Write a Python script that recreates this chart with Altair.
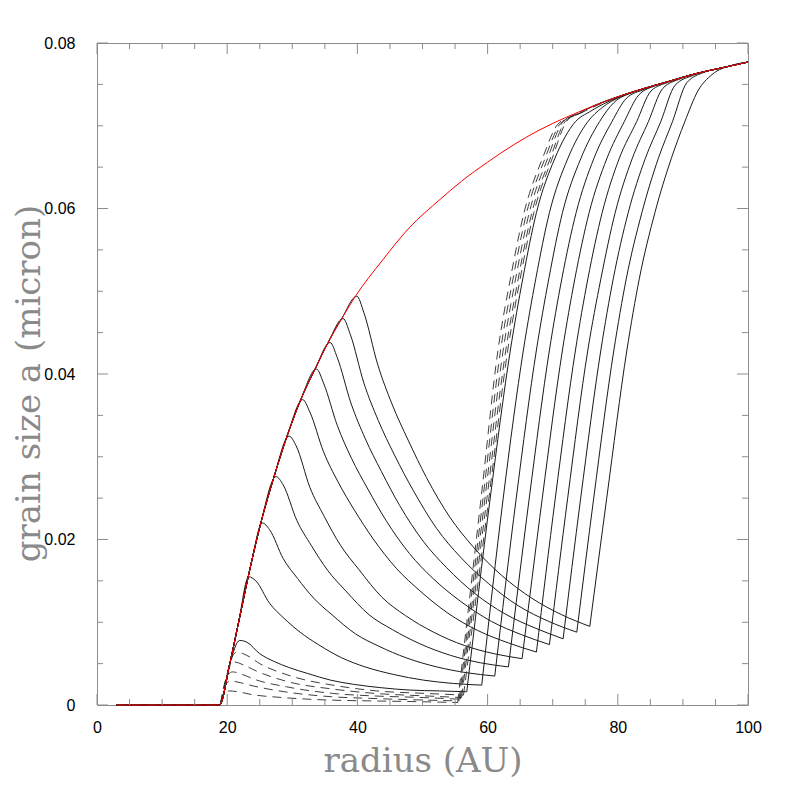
import altair as alt
import pandas as pd

# ---------------- data ----------------
# red envelope (maximum grain size)
red_x = [3, 18.8, 20.4, 21.7, 23.65, 25.1, 27.2, 29.2, 31.3, 33.5, 35.5, 37.6, 39.7, 43.9, 48,
         52.7, 56, 60, 64, 68, 72, 76, 80, 84, 88, 92, 96, 100]
red_y = [0, 0, .0050, .0098, .0170, .0218, .0276, .0325, .0369, .0406, .0438, .0467, .0494, .0538,
         .0577, .0611, .0633, .0656, .0677, .0695, .0710, .0723, .0735, .0745, .0754, .0763, .0770, .0777]

# solid curves: decay from the peak to the minimum, then the steep rise
S1_fall_x = [21.9, 23.0, 25.0, 27.1, 29.6, 32.4, 35.9, 39.4, 43.5, 48.1, 52.6, 56.8]
S1_fall_y = [.0078, .0076, .0062, .0053, .0045, .0038, .0030, .0025, .0021, .0018, .0017, .0016]
S1_rise_x = [56.8, 60.4, 63.5, 65.4, 67.5, 70.3, 73.5, 75.7, 78.5]
S1_rise_y = [.0016, .025, .0429, .0515, .0595, .066, .0705, .0717, .0729]

S2_fall_x = [23.3, 24.4, 26.5, 28.7, 31.2, 34.0, 37.6, 41.2, 45.5, 50.2, 54.8, 59.1]
S2_fall_y = [.0155, .0150, .0123, .0105, .0088, .0073, .0057, .0046, .0037, .0030, .0026, .0024]
S2_rise_x = [59.1, 62.4, 65.5, 67.4, 69.5, 72.3, 75.4, 77.6, 80.4]
S2_rise_y = [.0024, .025, .0429, .0515, .0595, .066, .0705, .0722, .0735]

S3_fall_x = [25.4, 26.5, 28.6, 30.8, 33.3, 36.1, 39.7, 43.3, 47.5, 52.2, 56.8, 61.1]
S3_fall_y = [.0220, .0212, .0177, .0153, .0129, .0109, .0086, .0071, .0057, .0046, .0039, .0035]
S3_rise_x = [61.1, 64.4, 67.5, 69.4, 71.5, 74.3, 77.2, 79.4, 82.2]
S3_rise_y = [.0035, .025, .0429, .0515, .0595, .066, .0705, .0728, .0740]

S4_fall_x = [27.5, 28.6, 30.7, 32.9, 35.4, 38.2, 41.8, 45.4, 49.6, 54.3, 58.9, 63.2]
S4_fall_y = [.0276, .0266, .0223, .0193, .0163, .0138, .0109, .0091, .0074, .0060, .0051, .0046]
S4_rise_x = [63.2, 66.4, 69.5, 71.4, 73.6, 76.3, 79.1, 81.3, 84.1]
S4_rise_y = [.0046, .025, .0429, .0515, .0595, .066, .0705, .0733, .0744]

S5_fall_x = [29.5, 30.6, 32.7, 34.9, 37.4, 40.2, 43.8, 47.4, 51.7, 56.4, 61.0, 65.3]
S5_fall_y = [.0325, .0313, .0263, .0228, .0193, .0164, .0130, .0108, .0088, .0072, .0062, .0056]
S5_rise_x = [65.3, 68.4, 71.5, 73.4, 75.6, 78.3, 81.0, 83.2, 86.0]
S5_rise_y = [.0056, .025, .0429, .0515, .0595, .066, .0705, .0737, .0749]

S6_fall_x = [31.6, 32.7, 34.8, 37.0, 39.5, 42.4, 46.0, 49.6, 53.9, 58.5, 63.2, 67.5]
S6_fall_y = [.0369, .0354, .0306, .0270, .0236, .0201, .0165, .0138, .0111, .0090, .0075, .0064]
S6_rise_x = [67.5, 70.4, 73.5, 75.4, 77.6, 80.2, 82.9, 85.1, 87.9]
S6_rise_y = [.0064, .025, .0429, .0515, .0595, .066, .0705, .0742, .0753]

S7_fall_x = [33.7, 34.8, 36.9, 39.1, 41.6, 44.4, 48.0, 51.6, 55.9, 60.6, 65.2, 69.5]
S7_fall_y = [.0406, .0389, .0338, .0298, .0261, .0223, .0183, .0153, .0125, .0101, .0085, .0073]
S7_rise_x = [69.5, 72.3, 75.4, 77.4, 79.6, 82.2, 84.7, 86.9, 89.7]
S7_rise_y = [.0073, .025, .0429, .0515, .0595, .066, .0705, .0745, .0757]

S8_fall_x = [35.8, 36.9, 39.0, 41.2, 43.7, 46.5, 50.1, 53.7, 58.0, 62.7, 67.3, 71.6]
S8_fall_y = [.0438, .0420, .0365, .0322, .0282, .0241, .0198, .0166, .0135, .0110, .0093, .0080]
S8_rise_x = [71.6, 74.3, 77.4, 79.3, 81.6, 84.2, 86.6, 88.8, 91.6]
S8_rise_y = [.0080, .025, .0429, .0515, .0595, .066, .0705, .0749, .0761]

S9_fall_x = [37.8, 38.9, 41.0, 43.2, 45.7, 48.6, 52.2, 55.8, 60.1, 64.7, 69.4, 73.7]
S9_fall_y = [.0467, .0448, .0389, .0344, .0302, .0259, .0213, .0179, .0147, .0120, .0101, .0088]
S9_rise_x = [73.7, 76.3, 79.4, 81.3, 83.7, 86.2, 88.4, 90.6, 93.4]
S9_rise_y = [.0088, .025, .0429, .0515, .0595, .066, .0705, .0752, .0765]

S10_fall_x = [39.9, 41.0, 43.1, 45.3, 47.8, 50.6, 54.2, 57.8, 62.1, 66.8, 71.4, 75.7]
S10_fall_y = [.0494, .0474, .0412, .0364, .0320, .0275, .0227, .0191, .0157, .0129, .0109, .0095]
S10_rise_x = [75.7, 78.3, 81.4, 83.3, 85.7, 88.2, 90.3, 92.3, 94.5, 97.5]
S10_rise_y = [.0095, .025, .0429, .0515, .0595, .066, .0705, .0742, .0762, .0773]

# dashed curves (early times)
D1_fall_x = [3, 18.8, 19.4, 20.2, 21.7, 23.5, 28.5, 35.6, 41.8, 49.5, 55.4]
D1_fall_y = [0, 0, .0013, .0017, .0016, .0013, .0009, .0006, .0005, .0004, .0003]
D1_rise_x = [55.4, 59.0, 61.6, 63.5, 65.6, 68.4, 70.8, 73.0]
D1_rise_y = [.0003, .025, .0429, .0515, .0595, .066, .0702, .0712]

D2_fall_x = [3, 18.8, 19.5, 20.0, 20.5, 22.0, 24.0, 28.8, 36.0, 42.0, 50.0, 55.6]
D2_fall_y = [0, 0, .0022, .0027, .0029, .0027, .0023, .0016, .0010, .0008, .0006, .0005]
D2_rise_x = [55.6, 59.3, 62.0, 63.9, 66.0, 68.8, 71.2, 73.4]
D2_rise_y = [.0005, .025, .0429, .0515, .0595, .066, .0703, .0713]

D3_fall_x = [3, 18.8, 19.7, 20.2, 20.8, 22.3, 24.2, 29.1, 36.2, 42.4, 50.1, 55.8]
D3_fall_y = [0, 0, .0029, .0037, .0040, .0037, .0031, .0022, .0014, .0011, .0009, .0007]
D3_rise_x = [55.8, 59.6, 62.4, 64.3, 66.4, 69.2, 71.6, 73.8]
D3_rise_y = [.0007, .025, .0429, .0515, .0595, .066, .0705, .0714]

D4_fall_x = [3, 18.8, 20.0, 20.5, 21.1, 22.6, 24.5, 29.4, 36.5, 42.7, 50.4, 56.0]
D4_fall_y = [0, 0, .0038, .0048, .0052, .0048, .0041, .0028, .0019, .0014, .0011, .0009]
D4_rise_x = [56.0, 59.9, 62.8, 64.7, 66.8, 69.6, 72.0, 74.2]
D4_rise_y = [.0009, .025, .0429, .0515, .0595, .066, .0706, .0715]

D5_fall_x = [3, 18.8, 20.4, 20.9, 21.5, 23.0, 25.0, 29.8, 37.0, 43.0, 50.5, 56.3]
D5_fall_y = [0, 0, .0050, .0060, .0064, .0060, .0050, .0035, .0023, .0017, .0014, .0012]
D5_rise_x = [56.3, 60.2, 63.1, 65.0, 67.1, 69.9, 72.3, 74.5]
D5_rise_y = [.0012, .025, .0429, .0515, .0595, .066, .0707, .0716]

# axis ticks
x_major = [0, 20, 40, 60, 80, 100]
x_minor = [5, 10, 15, 25, 30, 35, 45, 50, 55, 65, 70, 75, 85, 90, 95]
y_major = [0, 0.02, 0.04, 0.06, 0.08]
y_minor = [0.005, 0.01, 0.015, 0.025, 0.03, 0.035, 0.045, 0.05, 0.055, 0.065, 0.07, 0.075]

# ---------------- build tables ----------------
solid = [
    (S1_fall_x, S1_fall_y, S1_rise_x, S1_rise_y),
    (S2_fall_x, S2_fall_y, S2_rise_x, S2_rise_y),
    (S3_fall_x, S3_fall_y, S3_rise_x, S3_rise_y),
    (S4_fall_x, S4_fall_y, S4_rise_x, S4_rise_y),
    (S5_fall_x, S5_fall_y, S5_rise_x, S5_rise_y),
    (S6_fall_x, S6_fall_y, S6_rise_x, S6_rise_y),
    (S7_fall_x, S7_fall_y, S7_rise_x, S7_rise_y),
    (S8_fall_x, S8_fall_y, S8_rise_x, S8_rise_y),
    (S9_fall_x, S9_fall_y, S9_rise_x, S9_rise_y),
    (S10_fall_x, S10_fall_y, S10_rise_x, S10_rise_y),
]
dashed = [
    (D1_fall_x, D1_fall_y, D1_rise_x, D1_rise_y),
    (D2_fall_x, D2_fall_y, D2_rise_x, D2_rise_y),
    (D3_fall_x, D3_fall_y, D3_rise_x, D3_rise_y),
    (D4_fall_x, D4_fall_y, D4_rise_x, D4_rise_y),
    (D5_fall_x, D5_fall_y, D5_rise_x, D5_rise_y),
]


def rows_for(curves, prefix, lead_from_red):
    rows = []
    for k, (fx, fy, rx, ry) in enumerate(curves):
        # part A: baseline + rise along envelope + decay
        pa = []
        if lead_from_red:
            pa += [(x, y) for x, y in zip(red_x, red_y) if x < fx[0] - 0.3]
        pa += list(zip(fx, fy))
        # part B: steep rise, then merging into the envelope
        pb = list(zip(rx, ry)) + [(x, y) for x, y in zip(red_x, red_y) if x > rx[-1] + 1.5]
        for part, pts in (("a", pa), ("b", pb)):
            for i, (x, y) in enumerate(pts):
                rows.append({"seg": f"{prefix}{k}{part}", "i": i, "x": x, "y": y})
    return rows


df_solid = pd.DataFrame(rows_for(solid, "S", True))
df_dash = pd.DataFrame(rows_for(dashed, "D", False))
df_red = pd.DataFrame({"x": red_x, "y": red_y, "i": list(range(len(red_x)))})

W, H = 651, 662
xs = alt.Scale(domain=[0, 100], nice=False, zero=False)
ys = alt.Scale(domain=[0, 0.08], nice=False, zero=False)

title_color = "#8a8a8a"
x_axis = alt.Axis(values=x_major, ticks=False, tickSize=0, domain=False, grid=False,
                  labelFont="Liberation Sans", labelFontSize=16, labelColor="black",
                  labelPadding=14, labelFlush=False, format="d",
                  title="radius (AU)", titleFont="DejaVu Serif", titleFontSize=34,
                  titleFontWeight="normal", titleColor=title_color,
                  titleX=W / 2, titleY=66, titleAlign="center", titleBaseline="alphabetic",
                  titleAngle=0)
y_axis = alt.Axis(values=y_major, ticks=False, tickSize=0, domain=False, grid=False,
                  labelFont="Liberation Sans", labelFontSize=16, labelColor="black",
                  labelPadding=22, labelFlush=False,
                  labelExpr="datum.value == 0 ? '0' : format(datum.value, '.2f')",
                  title="grain size a (micron)", titleFont="DejaVu Serif", titleFontSize=34,
                  titleFontWeight="normal", titleColor=title_color,
                  titleX=-58, titleY=340, titleAlign="center", titleBaseline="alphabetic",
                  titleAngle=270)

base_x = alt.X("x:Q", scale=xs, axis=x_axis)
base_y = alt.Y("y:Q", scale=ys, axis=y_axis)

solid_layer = alt.Chart(df_solid).mark_line(
    interpolate="monotone", color="#1a1a1a", strokeWidth=1
).encode(x=base_x, y=base_y, detail="seg:N", order="i:Q")

dash_layer = alt.Chart(df_dash).mark_line(
    interpolate="monotone", color="#2a2a2a", strokeWidth=0.9, strokeDash=[9, 6]
).encode(x="x:Q", y="y:Q", detail="seg:N", order="i:Q")

red_layer = alt.Chart(df_red).mark_line(
    interpolate="monotone", color="#ff0000", strokeWidth=1
).encode(x="x:Q", y="y:Q", order="i:Q")

tick_color = "#8c8c8c"
xmaj = pd.DataFrame({"v": x_major})
xmin = pd.DataFrame({"v": x_minor})
ymaj = pd.DataFrame({"v": y_major})
ymin = pd.DataFrame({"v": y_minor})


def xticks(df, length):
    b = alt.Chart(df).mark_rule(color=tick_color, strokeWidth=1).encode(
        x="v:Q", y=alt.value(H), y2=alt.value(H - length))
    t = alt.Chart(df).mark_rule(color=tick_color, strokeWidth=1).encode(
        x="v:Q", y=alt.value(0), y2=alt.value(length))
    return [b, t]


def yticks(df, length):
    l = alt.Chart(df).mark_rule(color=tick_color, strokeWidth=1).encode(
        y="v:Q", x=alt.value(0), x2=alt.value(length))
    r = alt.Chart(df).mark_rule(color=tick_color, strokeWidth=1).encode(
        y="v:Q", x=alt.value(W), x2=alt.value(W - length))
    return [l, r]


ticks = xticks(xmaj, 11) + xticks(xmin, 6) + yticks(ymaj, 11) + yticks(ymin, 6)

chart = alt.layer(solid_layer, dash_layer, red_layer, *ticks).properties(
    width=W, height=H,
    autosize=alt.AutoSizeParams(type="none"),
    padding={"left": 89, "top": 35, "right": 33, "bottom": 76},
).configure_view(stroke=tick_color, strokeWidth=1)

chart.save("out.html", embed_options={"renderer": "svg", "actions": False})
